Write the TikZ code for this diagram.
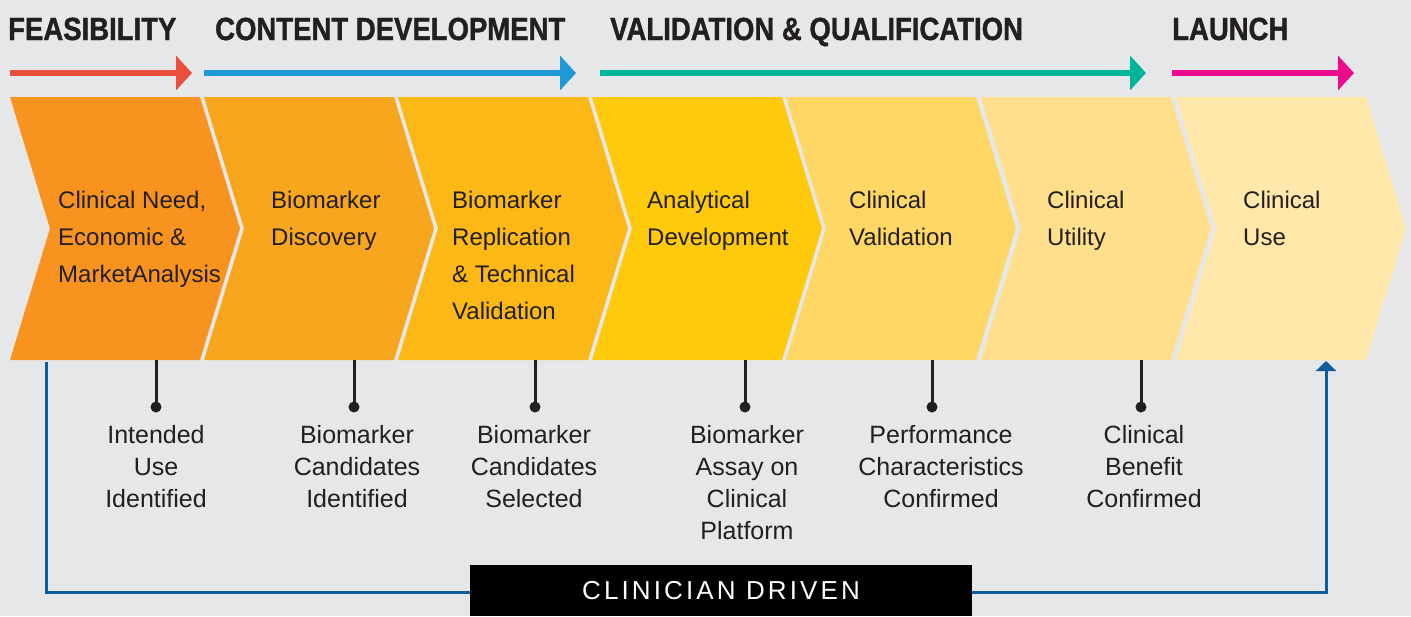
\documentclass[tikz,border=0pt]{standalone}
\usepackage{fontspec}
\setmainfont{Liberation Sans}
\newfontfamily\headfont[FakeStretch=0.86,FakeBold=1.2]{Liberation Sans}
\newfontfamily\boxfont[LetterSpace=12]{Liberation Sans}
\usetikzlibrary{arrows.meta}
\definecolor{bg}{HTML}{E6E7E8}
\definecolor{ink}{HTML}{231F20}
\definecolor{phred}{HTML}{EA4F3D}
\definecolor{phblue}{HTML}{1D9AD6}
\definecolor{phteal}{HTML}{00B49C}
\definecolor{phpink}{HTML}{EC0B8D}
\definecolor{fbblue}{HTML}{0F5C9C}
\definecolor{cA}{HTML}{F7931E}
\definecolor{cB}{HTML}{F8A61E}
\definecolor{cC}{HTML}{FBB817}
\definecolor{cD}{HTML}{FFCA0B}
\definecolor{cE}{HTML}{FFD764}
\definecolor{cF}{HTML}{FFDF8B}
\definecolor{cG}{HTML}{FFE8A9}
\tikzset{
  header/.style={anchor=base west, inner sep=0, text=ink, font=\headfont\bfseries\fontsize{32}{36}\selectfont},
  phasearrow/.style={line width=5.5pt, -{Triangle[length=16pt,width=34pt]}},
  steptext/.style={anchor=base west, inner sep=0, align=left, text=ink, font=\fontsize{24}{37}\selectfont},
  milestone/.style={anchor=base, inner sep=0, align=center, text=ink, font=\fontsize{25}{32}\selectfont},
  stem/.style={line width=3pt, draw=ink},
  fb/.style={line width=3pt, draw=fbblue},
}
\newcommand{\chev}[2]{%
  \fill[#2] (#1,97) -- ++(190,0) -- ++(40,131.5) -- ++(-40,131.5) -- ++(-190,0) -- ++(40,-131.5) -- cycle;}
\begin{document}
\begin{tikzpicture}[x=1pt,y=-1pt]
\useasboundingbox (0,0) rectangle (1411,616);
\fill[bg] (0,0) rectangle (1411,616);
% headers
\node[header] (hfeas) at (8,40) {FEASIBILITY};
\node[header] (hcont) at (215,40) {CONTENT DEVELOPMENT};
\node[header] (hval) at (610,40) {VALIDATION \& QUALIFICATION};
\node[header] (hlaunch) at (1172,40) {LAUNCH};
% phase arrows
\draw[phasearrow, phred] (10,73) -- (192,73);
\draw[phasearrow, phblue] (204,73) -- (576,73);
\draw[phasearrow, phteal] (600,73) -- (1146,73);
\draw[phasearrow, phpink] (1172,73) -- (1354,73);
% chevrons
\chev{10}{cA}
\chev{204}{cB}
\chev{398}{cC}
\chev{592}{cD}
\chev{786}{cE}
\chev{981}{cF}
\chev{1176}{cG}
% step texts (anchor = baseline of last line)
\node[steptext] (s1) at (58,282) {Clinical Need,\\Economic \&\\MarketAnalysis};
\node[steptext] (s2) at (271,245) {Biomarker\\Discovery};
\node[steptext] (s3) at (452,319) {Biomarker\\Replication\\\& Technical\\Validation};
\node[steptext] (s4) at (647,245) {Analytical\\Development};
\node[steptext] (s5) at (849,245) {Clinical\\Validation};
\node[steptext] (s6) at (1047,245) {Clinical\\Utility};
\node[steptext] (s7) at (1243,245) {Clinical\\Use};
% milestones
\foreach \x/\nm in {156/d1, 354/d2, 535/d3, 745/d4, 932/d5, 1141/d6}{
  \coordinate (\nm top) at (\x,360);
  \coordinate (\nm) at (\x,407);
  \draw[stem] (\nm top) -- (\nm);
  \fill[ink] (\nm) circle (5.5);
}
\node[milestone] (m1) at (156,507) {Intended\\Use\\Identified};
\node[milestone] (m2) at (357,507) {Biomarker\\Candidates\\Identified};
\node[milestone] (m3) at (534,507) {Biomarker\\Candidates\\Selected};
\node[milestone] (m4) at (747,539) {Biomarker\\Assay on\\Clinical\\Platform};
\node[milestone] (m5) at (941,507) {Performance\\Characteristics\\Confirmed};
\node[milestone] (m6) at (1144,507) {Clinical\\Benefit\\Confirmed};
% feedback loop
\coordinate (fbstart) at (46,362);
\coordinate (fbend) at (1326,361);
\draw[fb, -{Triangle[length=10pt,width=20pt]}] (fbstart) |- (1326,592) -- (fbend);
% bottom box
\node[fill=black, minimum width=502pt, minimum height=51pt, inner sep=0, text=white,
      font=\boxfont\fontsize{26}{30}\selectfont] (cd) at (721,590.5) {CLINICIAN DRIVEN};
\end{tikzpicture}
\end{document}
